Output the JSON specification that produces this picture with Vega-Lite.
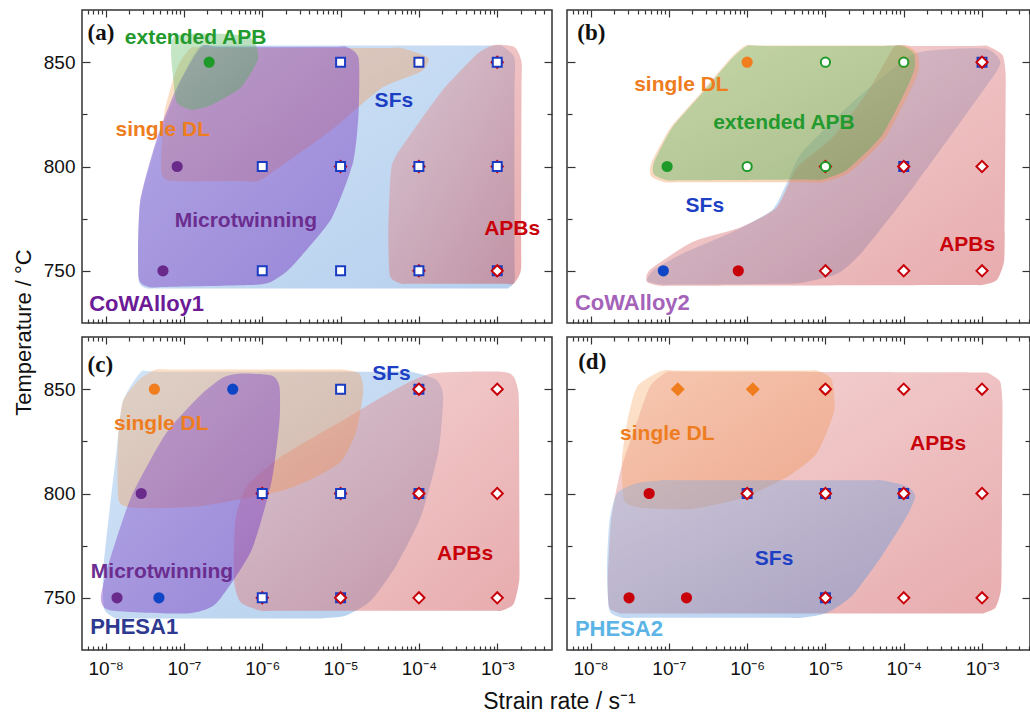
{
"$schema":"https://vega.github.io/schema/vega-lite/v6.json",
"padding":{"left":11,"top":8,"right":0,"bottom":0},
"config":{"view":{"stroke":"#333","strokeWidth":1.5},
 "line":{"filled":true,"interpolate":"cardinal-closed","tension":0.4,"strokeWidth":0},
 "axis":{"domain":false,"grid":false,"tickColor":"#333","tickWidth":1.2,"labelFont":"Liberation Sans","labelFontSize":19,"labelColor":"#111","titleFont":"Liberation Sans","titleFontWeight":"normal","titleColor":"#111"}},
"datasets":{
"blobs":[
{"panel":"a","type":"SFs","i":0,"x":1.66e-7,"y":858},{"panel":"a","type":"SFs","i":0.3,"x":3e-7,"y":858},{"panel":"a","type":"SFs","i":0.7,"x":7e-4,"y":858},{"panel":"a","type":"SFs","i":1,"x":1.12e-3,"y":858},{"panel":"a","type":"SFs","i":2,"x":1.66e-3,"y":852},{"panel":"a","type":"SFs","i":2.3,"x":1.66e-3,"y":835},{"panel":"a","type":"SFs","i":2.7,"x":1.66e-3,"y":760},{"panel":"a","type":"SFs","i":3,"x":1.66e-3,"y":745},{"panel":"a","type":"SFs","i":4,"x":1.32e-3,"y":741.5},{"panel":"a","type":"SFs","i":4.3,"x":8e-4,"y":741.5},{"panel":"a","type":"SFs","i":4.7,"x":6e-8,"y":741.5},{"panel":"a","type":"SFs","i":5,"x":3.55e-8,"y":741.5},{"panel":"a","type":"SFs","i":6,"x":2.63e-8,"y":746},{"panel":"a","type":"SFs","i":7,"x":2.75e-8,"y":782},{"panel":"a","type":"SFs","i":8,"x":4.68e-8,"y":814},{"panel":"a","type":"SFs","i":9,"x":8.51e-8,"y":838},{"panel":"a","type":"SFs","i":10,"x":1.26e-7,"y":852},
{"panel":"a","type":"APBs","i":0,"x":9.12e-4,"y":858.2},{"panel":"a","type":"APBs","i":1,"x":1.66e-3,"y":857.3},{"panel":"a","type":"APBs","i":2,"x":2.04e-3,"y":850.2},{"panel":"a","type":"APBs","i":2.3,"x":2.04e-3,"y":835},{"panel":"a","type":"APBs","i":2.7,"x":2.02e-3,"y":765},{"panel":"a","type":"APBs","i":3,"x":2.0e-3,"y":750},{"panel":"a","type":"APBs","i":4,"x":1.62e-3,"y":743.8},{"panel":"a","type":"APBs","i":4.3,"x":1.2e-3,"y":743.8},{"panel":"a","type":"APBs","i":4.7,"x":8e-5,"y":743.8},{"panel":"a","type":"APBs","i":5,"x":6.03e-5,"y":743.8},{"panel":"a","type":"APBs","i":6,"x":4.27e-5,"y":747.5},{"panel":"a","type":"APBs","i":7,"x":4.07e-5,"y":769},{"panel":"a","type":"APBs","i":8,"x":4.47e-5,"y":800},{"panel":"a","type":"APBs","i":9,"x":6.76e-5,"y":812},{"panel":"a","type":"APBs","i":10,"x":1.95e-4,"y":836},{"panel":"a","type":"APBs","i":11,"x":5.5e-4,"y":853.8},
{"panel":"a","type":"single DL","i":0,"x":1.23e-7,"y":856.8},{"panel":"a","type":"single DL","i":0.3,"x":2.5e-7,"y":856.8},{"panel":"a","type":"single DL","i":0.7,"x":3.5e-5,"y":856.8},{"panel":"a","type":"single DL","i":1,"x":6.03e-5,"y":856.8},{"panel":"a","type":"single DL","i":2,"x":1.32e-4,"y":852},{"panel":"a","type":"single DL","i":3,"x":1.07e-4,"y":845.5},{"panel":"a","type":"single DL","i":4,"x":3.31e-5,"y":837.5},{"panel":"a","type":"single DL","i":5,"x":7.59e-6,"y":817.4},{"panel":"a","type":"single DL","i":6,"x":1.74e-6,"y":800.2},{"panel":"a","type":"single DL","i":7,"x":8.91e-7,"y":793},{"panel":"a","type":"single DL","i":7.5,"x":4e-7,"y":793},{"panel":"a","type":"single DL","i":8,"x":6.92e-8,"y":793},{"panel":"a","type":"single DL","i":9,"x":5.13e-8,"y":797.9},{"panel":"a","type":"single DL","i":10,"x":5.62e-8,"y":825.5},{"panel":"a","type":"single DL","i":11,"x":8.13e-8,"y":847},
{"panel":"a","type":"Microtwinning","i":0,"x":1.66e-7,"y":857.4},{"panel":"a","type":"Microtwinning","i":0.3,"x":3e-7,"y":857.4},{"panel":"a","type":"Microtwinning","i":0.7,"x":8e-6,"y":857.4},{"panel":"a","type":"Microtwinning","i":1,"x":1.175e-5,"y":857.4},{"panel":"a","type":"Microtwinning","i":2,"x":1.7e-5,"y":852},{"panel":"a","type":"Microtwinning","i":3,"x":1.7e-5,"y":826},{"panel":"a","type":"Microtwinning","i":4,"x":1.445e-5,"y":802},{"panel":"a","type":"Microtwinning","i":5,"x":7.59e-6,"y":774.8},{"panel":"a","type":"Microtwinning","i":6,"x":2.34e-6,"y":751.7},{"panel":"a","type":"Microtwinning","i":7,"x":1.29e-6,"y":744.7},{"panel":"a","type":"Microtwinning","i":7.3,"x":7e-7,"y":743.2},{"panel":"a","type":"Microtwinning","i":7.7,"x":6e-8,"y":742.3},{"panel":"a","type":"Microtwinning","i":8,"x":3.55e-8,"y":742.3},{"panel":"a","type":"Microtwinning","i":9,"x":2.63e-8,"y":747},{"panel":"a","type":"Microtwinning","i":10,"x":2.75e-8,"y":782.8},{"panel":"a","type":"Microtwinning","i":11,"x":4.57e-8,"y":814},{"panel":"a","type":"Microtwinning","i":12,"x":8.13e-8,"y":838},
{"panel":"a","type":"extended APB","i":0,"x":7.59e-8,"y":862.5},{"panel":"a","type":"extended APB","i":1,"x":6.46e-7,"y":862.5},{"panel":"a","type":"extended APB","i":2,"x":8.91e-7,"y":852},{"panel":"a","type":"extended APB","i":3,"x":5.37e-7,"y":838},{"panel":"a","type":"extended APB","i":4,"x":2.24e-7,"y":829.5},{"panel":"a","type":"extended APB","i":5,"x":1.26e-7,"y":827.2},{"panel":"a","type":"extended APB","i":6,"x":8.13e-8,"y":830.6},{"panel":"a","type":"extended APB","i":7,"x":7.41e-8,"y":840},
{"panel":"b","type":"SFs","i":0,"x":1.175e-3,"y":856.3},{"panel":"b","type":"SFs","i":1,"x":1.7e-3,"y":850.6},{"panel":"b","type":"SFs","i":2,"x":1.35e-3,"y":842.5},{"panel":"b","type":"SFs","i":3,"x":1.38e-4,"y":791},{"panel":"b","type":"SFs","i":4,"x":2.95e-5,"y":759},{"panel":"b","type":"SFs","i":5,"x":1.41e-5,"y":748.6},{"panel":"b","type":"SFs","i":6,"x":5.01e-6,"y":744.3},{"panel":"b","type":"SFs","i":6.3,"x":2.5e-6,"y":743.8},{"panel":"b","type":"SFs","i":6.7,"x":1.5e-7,"y":743.4},{"panel":"b","type":"SFs","i":7,"x":8.13e-8,"y":743.4},{"panel":"b","type":"SFs","i":8,"x":5.25e-8,"y":745.3},{"panel":"b","type":"SFs","i":9,"x":6.46e-8,"y":750.5},{"panel":"b","type":"SFs","i":10,"x":1.48e-7,"y":758.2},{"panel":"b","type":"SFs","i":11,"x":6.46e-7,"y":768.6},{"panel":"b","type":"SFs","i":12,"x":2.09e-6,"y":779.2},{"panel":"b","type":"SFs","i":13,"x":3.24e-6,"y":792.4},{"panel":"b","type":"SFs","i":14,"x":5.01e-6,"y":806.7},{"panel":"b","type":"SFs","i":15,"x":2.19e-5,"y":830.6},{"panel":"b","type":"SFs","i":16,"x":1.29e-4,"y":853.5},{"panel":"b","type":"SFs","i":17,"x":4.17e-4,"y":856.3},
{"panel":"b","type":"APBs","i":0,"x":7.76e-5,"y":857.8},{"panel":"b","type":"APBs","i":0.3,"x":1.3e-4,"y":857.8},{"panel":"b","type":"APBs","i":0.7,"x":8e-4,"y":857.8},{"panel":"b","type":"APBs","i":1,"x":1.175e-3,"y":857.8},{"panel":"b","type":"APBs","i":2,"x":1.82e-3,"y":853.5},{"panel":"b","type":"APBs","i":3,"x":2.0e-3,"y":844.9},{"panel":"b","type":"APBs","i":3.3,"x":2.0e-3,"y":830},{"panel":"b","type":"APBs","i":3.7,"x":1.95e-3,"y":768},{"panel":"b","type":"APBs","i":4,"x":1.905e-3,"y":754.2},{"panel":"b","type":"APBs","i":5,"x":1.55e-3,"y":745.6},{"panel":"b","type":"APBs","i":6,"x":1.0e-3,"y":743.2},{"panel":"b","type":"APBs","i":6.3,"x":5e-4,"y":743.2},{"panel":"b","type":"APBs","i":6.7,"x":1.5e-7,"y":742.8},{"panel":"b","type":"APBs","i":7,"x":8.13e-8,"y":742.8},{"panel":"b","type":"APBs","i":8,"x":5.25e-8,"y":744.7},{"panel":"b","type":"APBs","i":9,"x":5.75e-8,"y":750.5},{"panel":"b","type":"APBs","i":10,"x":2.0e-7,"y":763.8},{"panel":"b","type":"APBs","i":11,"x":8.51e-7,"y":771},{"panel":"b","type":"APBs","i":12,"x":2.4e-6,"y":780.5},{"panel":"b","type":"APBs","i":13,"x":4.37e-6,"y":799.6},{"panel":"b","type":"APBs","i":14,"x":1.23e-5,"y":813.9},{"panel":"b","type":"APBs","i":15,"x":3.39e-5,"y":835.4},{"panel":"b","type":"APBs","i":16,"x":6.17e-5,"y":852},
{"panel":"b","type":"single DL","i":0,"x":9.55e-7,"y":858},{"panel":"b","type":"single DL","i":0.3,"x":1.6e-6,"y":858},{"panel":"b","type":"single DL","i":0.7,"x":6e-5,"y":858},{"panel":"b","type":"single DL","i":1,"x":1.07e-4,"y":858},{"panel":"b","type":"single DL","i":2,"x":1.51e-4,"y":854},{"panel":"b","type":"single DL","i":3,"x":1.55e-4,"y":846},{"panel":"b","type":"single DL","i":4,"x":1.2e-4,"y":836},{"panel":"b","type":"single DL","i":5,"x":5.62e-5,"y":813},{"panel":"b","type":"single DL","i":6,"x":2.0e-5,"y":797},{"panel":"b","type":"single DL","i":7,"x":9.12e-6,"y":792.5},{"panel":"b","type":"single DL","i":7.3,"x":5e-6,"y":792.5},{"panel":"b","type":"single DL","i":7.7,"x":1.5e-7,"y":792.5},{"panel":"b","type":"single DL","i":8,"x":8.91e-8,"y":792.5},{"panel":"b","type":"single DL","i":9,"x":5.89e-8,"y":795.5},{"panel":"b","type":"single DL","i":10,"x":6.03e-8,"y":802},{"panel":"b","type":"single DL","i":11,"x":1.05e-7,"y":818.6},{"panel":"b","type":"single DL","i":12,"x":2.57e-7,"y":835.4},{"panel":"b","type":"single DL","i":13,"x":6.17e-7,"y":852},
{"panel":"b","type":"extended APB","i":0,"x":1.0e-6,"y":857.8},{"panel":"b","type":"extended APB","i":0.3,"x":1.7e-6,"y":857.8},{"panel":"b","type":"extended APB","i":0.7,"x":5.5e-5,"y":857.8},{"panel":"b","type":"extended APB","i":1,"x":9.55e-5,"y":857.8},{"panel":"b","type":"extended APB","i":2,"x":1.35e-4,"y":854.4},{"panel":"b","type":"extended APB","i":3,"x":1.38e-4,"y":847.3},{"panel":"b","type":"extended APB","i":4,"x":1.1e-4,"y":837.7},{"panel":"b","type":"extended APB","i":5,"x":5.25e-5,"y":814.8},{"panel":"b","type":"extended APB","i":6,"x":1.905e-5,"y":798.6},{"panel":"b","type":"extended APB","i":7,"x":9.12e-6,"y":793.8},{"panel":"b","type":"extended APB","i":7.3,"x":5e-6,"y":793.8},{"panel":"b","type":"extended APB","i":7.7,"x":1.6e-7,"y":793.4},{"panel":"b","type":"extended APB","i":8,"x":9.55e-8,"y":793.4},{"panel":"b","type":"extended APB","i":9,"x":6.46e-8,"y":796.2},{"panel":"b","type":"extended APB","i":10,"x":6.46e-8,"y":802},{"panel":"b","type":"extended APB","i":11,"x":1.1e-7,"y":818.6},{"panel":"b","type":"extended APB","i":12,"x":2.69e-7,"y":835.4},{"panel":"b","type":"extended APB","i":13,"x":6.46e-7,"y":852},
{"panel":"c","type":"SFs","i":0,"x":2.85e-8,"y":858.4},{"panel":"c","type":"SFs","i":0.3,"x":5e-8,"y":858.4},{"panel":"c","type":"SFs","i":0.7,"x":4e-5,"y":858.4},{"panel":"c","type":"SFs","i":1,"x":7.94e-5,"y":858.4},{"panel":"c","type":"SFs","i":2,"x":1.66e-4,"y":854.6},{"panel":"c","type":"SFs","i":3,"x":2.04e-4,"y":846.5},{"panel":"c","type":"SFs","i":4,"x":1.78e-4,"y":820.3},{"panel":"c","type":"SFs","i":5,"x":1.07e-4,"y":789.3},{"panel":"c","type":"SFs","i":6,"x":5.13e-5,"y":765.4},{"panel":"c","type":"SFs","i":7,"x":2.45e-5,"y":748.7},{"panel":"c","type":"SFs","i":8,"x":1.175e-5,"y":741.5},{"panel":"c","type":"SFs","i":9,"x":5.62e-6,"y":740.1},{"panel":"c","type":"SFs","i":9.3,"x":3e-6,"y":740.1},{"panel":"c","type":"SFs","i":9.7,"x":2.5e-8,"y":740.1},{"panel":"c","type":"SFs","i":10,"x":1.38e-8,"y":740.1},{"panel":"c","type":"SFs","i":11,"x":9.55e-9,"y":744.9},{"panel":"c","type":"SFs","i":12,"x":9.33e-9,"y":763},{"panel":"c","type":"SFs","i":13,"x":1.12e-8,"y":791.6},{"panel":"c","type":"SFs","i":14,"x":1.38e-8,"y":820.3},{"panel":"c","type":"SFs","i":15,"x":1.66e-8,"y":844.1},
{"panel":"c","type":"APBs","i":0,"x":1.445e-4,"y":857.5},{"panel":"c","type":"APBs","i":1,"x":1.12e-3,"y":858.4},{"panel":"c","type":"APBs","i":2,"x":1.62e-3,"y":856},{"panel":"c","type":"APBs","i":3,"x":1.86e-3,"y":848.9},{"panel":"c","type":"APBs","i":3.3,"x":1.9e-3,"y":835},{"panel":"c","type":"APBs","i":3.7,"x":1.92e-3,"y":772},{"panel":"c","type":"APBs","i":4,"x":1.905e-3,"y":758.1},{"panel":"c","type":"APBs","i":5,"x":1.62e-3,"y":747.1},{"panel":"c","type":"APBs","i":6,"x":1.12e-3,"y":743.8},{"panel":"c","type":"APBs","i":6.3,"x":7e-4,"y":743.8},{"panel":"c","type":"APBs","i":6.7,"x":1.8e-6,"y":743.8},{"panel":"c","type":"APBs","i":7,"x":9.77e-7,"y":743.8},{"panel":"c","type":"APBs","i":8,"x":5.37e-7,"y":747.6},{"panel":"c","type":"APBs","i":9,"x":4.37e-7,"y":758.1},{"panel":"c","type":"APBs","i":10,"x":4.52e-7,"y":786.7},{"panel":"c","type":"APBs","i":11,"x":6.31e-7,"y":803.4},{"panel":"c","type":"APBs","i":12,"x":1.74e-6,"y":817.7},{"panel":"c","type":"APBs","i":13,"x":1.02e-5,"y":834.6},{"panel":"c","type":"APBs","i":14,"x":4.47e-5,"y":848.9},
{"panel":"c","type":"single DL","i":0,"x":4.42e-8,"y":859.4},{"panel":"c","type":"single DL","i":0.3,"x":8e-8,"y":859.4},{"panel":"c","type":"single DL","i":0.7,"x":6e-6,"y":859.4},{"panel":"c","type":"single DL","i":1,"x":1.02e-5,"y":859.4},{"panel":"c","type":"single DL","i":2,"x":1.74e-5,"y":857.5},{"panel":"c","type":"single DL","i":3,"x":1.95e-5,"y":848.9},{"panel":"c","type":"single DL","i":4,"x":1.585e-5,"y":829.8},{"panel":"c","type":"single DL","i":5,"x":1.02e-5,"y":815.5},{"panel":"c","type":"single DL","i":6,"x":4.27e-6,"y":806.9},{"panel":"c","type":"single DL","i":7,"x":1.74e-6,"y":801.2},{"panel":"c","type":"single DL","i":8,"x":1.66e-7,"y":794},{"panel":"c","type":"single DL","i":9,"x":2.85e-8,"y":793},{"panel":"c","type":"single DL","i":10,"x":1.48e-8,"y":796.3},{"panel":"c","type":"single DL","i":11,"x":1.445e-8,"y":825},{"panel":"c","type":"single DL","i":12,"x":1.66e-8,"y":844.1},{"panel":"c","type":"single DL","i":13,"x":2.69e-8,"y":854.6},
{"panel":"c","type":"Microtwinning","i":0,"x":5.37e-7,"y":857.5},{"panel":"c","type":"Microtwinning","i":1,"x":1.32e-6,"y":856.5},{"panel":"c","type":"Microtwinning","i":2,"x":1.66e-6,"y":851.3},{"panel":"c","type":"Microtwinning","i":3,"x":1.66e-6,"y":834.6},{"panel":"c","type":"Microtwinning","i":4,"x":1.32e-6,"y":806},{"panel":"c","type":"Microtwinning","i":5,"x":7.24e-7,"y":772.6},{"panel":"c","type":"Microtwinning","i":6,"x":2.57e-7,"y":747.3},{"panel":"c","type":"Microtwinning","i":7,"x":1.07e-7,"y":742.5},{"panel":"c","type":"Microtwinning","i":8,"x":1.175e-8,"y":743.9},{"panel":"c","type":"Microtwinning","i":9,"x":8.71e-9,"y":749.7},{"panel":"c","type":"Microtwinning","i":10,"x":1.12e-8,"y":767.6},{"panel":"c","type":"Microtwinning","i":11,"x":2.14e-8,"y":798.7},{"panel":"c","type":"Microtwinning","i":12,"x":5.89e-8,"y":828.8},{"panel":"c","type":"Microtwinning","i":13,"x":1.66e-7,"y":847.5},{"panel":"c","type":"Microtwinning","i":14,"x":3.16e-7,"y":855.6},
{"panel":"d","type":"APBs","i":0,"x":9.55e-8,"y":858.4},{"panel":"d","type":"APBs","i":0.3,"x":1.7e-7,"y":858.4},{"panel":"d","type":"APBs","i":0.7,"x":7e-4,"y":858},{"panel":"d","type":"APBs","i":1,"x":1.16e-3,"y":857.9},{"panel":"d","type":"APBs","i":2,"x":1.7e-3,"y":853.7},{"panel":"d","type":"APBs","i":3,"x":1.82e-3,"y":844.1},{"panel":"d","type":"APBs","i":3.3,"x":1.82e-3,"y":830},{"panel":"d","type":"APBs","i":3.7,"x":1.78e-3,"y":767},{"panel":"d","type":"APBs","i":4,"x":1.74e-3,"y":753.5},{"panel":"d","type":"APBs","i":5,"x":1.48e-3,"y":745.3},{"panel":"d","type":"APBs","i":6,"x":1.0e-3,"y":742.5},{"panel":"d","type":"APBs","i":6.3,"x":6e-4,"y":742.5},{"panel":"d","type":"APBs","i":6.7,"x":4e-8,"y":742.5},{"panel":"d","type":"APBs","i":7,"x":2.51e-8,"y":742.5},{"panel":"d","type":"APBs","i":8,"x":1.74e-8,"y":745.3},{"panel":"d","type":"APBs","i":9,"x":1.66e-8,"y":758.1},{"panel":"d","type":"APBs","i":10,"x":1.82e-8,"y":786.7},{"panel":"d","type":"APBs","i":11,"x":2.4e-8,"y":810.6},{"panel":"d","type":"APBs","i":12,"x":3.94e-8,"y":834.6},{"panel":"d","type":"APBs","i":13,"x":5.75e-8,"y":851.3},
{"panel":"d","type":"single DL","i":0,"x":8.22e-8,"y":858.9},{"panel":"d","type":"single DL","i":0.3,"x":1.4e-7,"y":858.9},{"panel":"d","type":"single DL","i":0.7,"x":4.5e-6,"y":858.9},{"panel":"d","type":"single DL","i":1,"x":7.76e-6,"y":858.9},{"panel":"d","type":"single DL","i":2,"x":1.2e-5,"y":854.6},{"panel":"d","type":"single DL","i":3,"x":1.29e-5,"y":839.4},{"panel":"d","type":"single DL","i":4,"x":7.76e-6,"y":819.3},{"panel":"d","type":"single DL","i":5,"x":3.24e-6,"y":807.9},{"panel":"d","type":"single DL","i":6,"x":8.61e-7,"y":797.8},{"panel":"d","type":"single DL","i":7,"x":2.0e-7,"y":792.6},{"panel":"d","type":"single DL","i":8,"x":4.57e-8,"y":793.1},{"panel":"d","type":"single DL","i":9,"x":2.69e-8,"y":796.5},{"panel":"d","type":"single DL","i":10,"x":2.51e-8,"y":815.5},{"panel":"d","type":"single DL","i":11,"x":2.95e-8,"y":834.6},{"panel":"d","type":"single DL","i":12,"x":3.94e-8,"y":851.3},
{"panel":"d","type":"SFs","i":0,"x":8.22e-8,"y":806.4},{"panel":"d","type":"SFs","i":0.3,"x":1.4e-7,"y":806.4},{"panel":"d","type":"SFs","i":0.7,"x":3e-5,"y":806.4},{"panel":"d","type":"SFs","i":1,"x":5.25e-5,"y":806.4},{"panel":"d","type":"SFs","i":2,"x":1.1e-4,"y":803.5},{"panel":"d","type":"SFs","i":3,"x":1.4e-4,"y":798.7},{"panel":"d","type":"SFs","i":4,"x":1.1e-4,"y":789.2},{"panel":"d","type":"SFs","i":5,"x":5.25e-5,"y":770.1},{"panel":"d","type":"SFs","i":6,"x":2.19e-5,"y":751},{"panel":"d","type":"SFs","i":7,"x":1.05e-5,"y":742.9},{"panel":"d","type":"SFs","i":8,"x":5.01e-6,"y":740.5},{"panel":"d","type":"SFs","i":8.3,"x":2.5e-6,"y":740.5},{"panel":"d","type":"SFs","i":8.7,"x":4.5e-8,"y":740.5},{"panel":"d","type":"SFs","i":9,"x":2.51e-8,"y":740.5},{"panel":"d","type":"SFs","i":10,"x":1.74e-8,"y":743.9},{"panel":"d","type":"SFs","i":11,"x":1.62e-8,"y":763},{"panel":"d","type":"SFs","i":12,"x":1.74e-8,"y":786.9},{"panel":"d","type":"SFs","i":13,"x":2.19e-8,"y":800.2},{"panel":"d","type":"SFs","i":14,"x":3.94e-8,"y":805}
],
"pts":[
{"panel":"a","x":2.1e-7,"y":850,"kind":"EAPB_f"},{"panel":"a","x":8.2e-8,"y":800,"kind":"MT_f"},{"panel":"a","x":5.4e-8,"y":750,"kind":"MT_f"},{"panel":"a","x":1e-6,"y":800,"kind":"SF"},{"panel":"a","x":1e-6,"y":750,"kind":"SF"},{"panel":"a","x":1e-5,"y":850,"kind":"SF"},{"panel":"a","x":1e-5,"y":800,"kind":"APB"},{"panel":"a","x":1e-5,"y":800,"kind":"SF"},{"panel":"a","x":1e-5,"y":750,"kind":"SF"},{"panel":"a","x":1e-4,"y":850,"kind":"DL_f"},{"panel":"a","x":1e-4,"y":850,"kind":"SF"},{"panel":"a","x":1e-4,"y":800,"kind":"APB"},{"panel":"a","x":1e-4,"y":800,"kind":"SF"},{"panel":"a","x":1e-4,"y":750,"kind":"APB"},{"panel":"a","x":1e-4,"y":750,"kind":"SF"},{"panel":"a","x":1e-3,"y":850,"kind":"APB"},{"panel":"a","x":1e-3,"y":850,"kind":"SF"},{"panel":"a","x":1e-3,"y":800,"kind":"APB"},{"panel":"a","x":1e-3,"y":800,"kind":"SF"},{"panel":"a","x":1e-3,"y":750,"kind":"SF"},{"panel":"a","x":1e-3,"y":750,"kind":"APB"},
{"panel":"b","x":1e-6,"y":850,"kind":"DL_f"},{"panel":"b","x":1e-5,"y":850,"kind":"EAPB"},{"panel":"b","x":1e-4,"y":850,"kind":"DL_f"},{"panel":"b","x":1e-4,"y":850,"kind":"EAPB"},{"panel":"b","x":1e-3,"y":850,"kind":"SF"},{"panel":"b","x":1e-3,"y":850,"kind":"APB"},{"panel":"b","x":9.5e-8,"y":800,"kind":"EAPB_f"},{"panel":"b","x":1e-6,"y":800,"kind":"EAPB"},{"panel":"b","x":1e-5,"y":800,"kind":"APB"},{"panel":"b","x":1e-5,"y":800,"kind":"EAPB"},{"panel":"b","x":1e-4,"y":800,"kind":"SF"},{"panel":"b","x":1e-4,"y":800,"kind":"APB"},{"panel":"b","x":1e-3,"y":800,"kind":"APB"},{"panel":"b","x":8.5e-8,"y":750,"kind":"SF_f"},{"panel":"b","x":7.7e-7,"y":750,"kind":"APB_f"},{"panel":"b","x":1e-5,"y":750,"kind":"APB"},{"panel":"b","x":1e-4,"y":750,"kind":"APB"},{"panel":"b","x":1e-3,"y":750,"kind":"APB"},
{"panel":"c","x":4.2e-8,"y":850,"kind":"DL_f"},{"panel":"c","x":4.2e-7,"y":850,"kind":"SF_f"},{"panel":"c","x":1e-5,"y":850,"kind":"DL_f"},{"panel":"c","x":1e-5,"y":850,"kind":"SF"},{"panel":"c","x":1e-4,"y":850,"kind":"SF"},{"panel":"c","x":1e-4,"y":850,"kind":"APB"},{"panel":"c","x":1e-3,"y":850,"kind":"APB"},{"panel":"c","x":2.85e-8,"y":800,"kind":"MT_f"},{"panel":"c","x":1e-6,"y":800,"kind":"APB"},{"panel":"c","x":1e-6,"y":800,"kind":"SF"},{"panel":"c","x":1e-5,"y":800,"kind":"APB"},{"panel":"c","x":1e-5,"y":800,"kind":"SF"},{"panel":"c","x":1e-4,"y":800,"kind":"SF"},{"panel":"c","x":1e-4,"y":800,"kind":"APB"},{"panel":"c","x":1e-3,"y":800,"kind":"APB"},{"panel":"c","x":1.4e-8,"y":750,"kind":"MT_f"},{"panel":"c","x":4.8e-8,"y":750,"kind":"SF_f"},{"panel":"c","x":1e-6,"y":750,"kind":"APB"},{"panel":"c","x":1e-6,"y":750,"kind":"SF"},{"panel":"c","x":1e-5,"y":750,"kind":"SF"},{"panel":"c","x":1e-5,"y":750,"kind":"APB"},{"panel":"c","x":1e-4,"y":750,"kind":"APB"},{"panel":"c","x":1e-3,"y":750,"kind":"APB"},
{"panel":"d","x":1.3e-7,"y":850,"kind":"DL_fd"},{"panel":"d","x":1.18e-6,"y":850,"kind":"DL_fd"},{"panel":"d","x":1e-5,"y":850,"kind":"DL_f"},{"panel":"d","x":1e-5,"y":850,"kind":"APB"},{"panel":"d","x":1e-4,"y":850,"kind":"APB"},{"panel":"d","x":1e-3,"y":850,"kind":"APB"},{"panel":"d","x":5.6e-8,"y":800,"kind":"APB_f"},{"panel":"d","x":1e-6,"y":800,"kind":"SF"},{"panel":"d","x":1e-6,"y":800,"kind":"APB"},{"panel":"d","x":1e-5,"y":800,"kind":"SF"},{"panel":"d","x":1e-5,"y":800,"kind":"APB"},{"panel":"d","x":1e-4,"y":800,"kind":"SF"},{"panel":"d","x":1e-4,"y":800,"kind":"APB"},{"panel":"d","x":1e-3,"y":800,"kind":"APB"},{"panel":"d","x":3.1e-8,"y":750,"kind":"APB_f"},{"panel":"d","x":1.68e-7,"y":750,"kind":"APB_f"},{"panel":"d","x":1e-5,"y":750,"kind":"SF"},{"panel":"d","x":1e-5,"y":750,"kind":"APB"},{"panel":"d","x":1e-4,"y":750,"kind":"APB"},{"panel":"d","x":1e-3,"y":750,"kind":"APB"}
],
"labels":[
{"panel":"a","role":"letter","text":"(a)","x":5.89e-9,"y":864},{"panel":"a","role":"region","text":"extended APB","x":1.41e-7,"y":861.8},{"panel":"a","role":"region","text":"single DL","x":5.37e-8,"y":817.6},{"panel":"a","role":"region","text":"Microtwinning","x":6.17e-7,"y":773.8},{"panel":"a","role":"region","text":"SFs","x":4.79e-5,"y":831.5},{"panel":"a","role":"region","text":"APBs","x":1.55e-3,"y":770},{"panel":"a","role":"alloy","text":"CoWAlloy1","x":6.17e-9,"y":734.2},
{"panel":"b","role":"letter","text":"(b)","x":6.76e-9,"y":864},{"panel":"b","role":"region","text":"single DL","x":1.445e-7,"y":839.2},{"panel":"b","role":"region","text":"extended APB","x":2.95e-6,"y":821},{"panel":"b","role":"region","text":"SFs","x":2.88e-7,"y":781},{"panel":"b","role":"region","text":"APBs","x":6.46e-4,"y":762.3},{"panel":"b","role":"alloy","text":"CoWAlloy2","x":6.31e-9,"y":734.7},
{"panel":"c","role":"letter","text":"(c)","x":5.89e-9,"y":861.8},{"panel":"c","role":"region","text":"single DL","x":5.13e-8,"y":833.5},{"panel":"c","role":"region","text":"Microtwinning","x":5.25e-8,"y":762.5},{"panel":"c","role":"region","text":"SFs","x":4.47e-5,"y":857.5},{"panel":"c","role":"region","text":"APBs","x":3.89e-4,"y":771},{"panel":"c","role":"alloy","text":"PHESA1","x":6.35e-9,"y":735.8},
{"panel":"d","role":"letter","text":"(d)","x":6.95e-9,"y":863.2},{"panel":"d","role":"region","text":"single DL","x":9.55e-8,"y":828.7},{"panel":"d","role":"region","text":"SFs","x":2.21e-6,"y":768.7},{"panel":"d","role":"region","text":"APBs","x":2.75e-4,"y":823.6},{"panel":"d","role":"alloy","text":"PHESA2","x":6.31e-9,"y":735.3}
]},
"concat":[
{"width":470,"height":313,"layer":[
 {"data":{"name":"blobs"},"transform":[{"filter":"datum.panel=='a' && datum.type=='SFs'"}],"mark":{"type":"line","fill":{"gradient":"linear","x1":0,"y1":0,"x2":1,"y2":1,"stops":[{"offset":0,"color":"rgba(120,175,232,0.34)"},{"offset":1,"color":"rgba(80,140,212,0.42)"}]}},
  "encoding":{"x":{"field":"x","type":"quantitative","scale":{"type":"log","domain":[5e-9,5e-3],"nice":false},"axis":{"orient":"bottom","values":[6e-9,7e-9,8e-9,9e-9,1e-8,2e-8,3e-8,4e-8,5e-8,6e-8,7e-8,8e-8,9e-8,1e-7,2e-7,3e-7,4e-7,5e-7,6e-7,7e-7,8e-7,9e-7,1e-6,2e-6,3e-6,4e-6,5e-6,6e-6,7e-6,8e-6,9e-6,1e-5,2e-5,3e-5,4e-5,5e-5,6e-5,7e-5,8e-5,9e-5,1e-4,2e-4,3e-4,4e-4,5e-4,6e-4,7e-4,8e-4,9e-4,1e-3,2e-3,3e-3,4e-3],"tickSize":{"condition":{"test":"abs(log(datum.value)/LN10-round(log(datum.value)/LN10))<0.001","value":-7},"value":-4},"labels":false,"title":null}},
   "y":{"field":"y","type":"quantitative","scale":{"domain":[725,875],"nice":false,"zero":false},"axis":{"orient":"left","values":[750,775,800,825,850],"tickSize":{"condition":{"test":"datum.value % 50 == 0","value":-8},"value":-5},"labelExpr":"datum.value % 50 == 0 ? datum.label : ''","labelPadding":15,"title":"Temperature / °C","titleFontSize":22,"titleX":-47,"titleY":322,"titleAngle":270,"titleBaseline":"bottom","titleAlign":"center"}},
   "order":{"field":"i","type":"quantitative"}}},
 {"data":{"name":"blobs"},"transform":[{"filter":"datum.panel=='a' && datum.type=='APBs'"}],"mark":{"type":"line","fill":{"gradient":"linear","x1":0,"y1":0,"x2":1,"y2":1,"stops":[{"offset":0,"color":"rgba(235,165,165,0.45)"},{"offset":1,"color":"rgba(205,80,85,0.48)"}]}},
  "encoding":{"x":{"field":"x","type":"quantitative","scale":{"type":"log","domain":[5e-9,5e-3],"nice":false},"axis":null},"y":{"field":"y","type":"quantitative","scale":{"domain":[725,875],"nice":false,"zero":false},"axis":null},"order":{"field":"i","type":"quantitative"}}},
 {"data":{"name":"blobs"},"transform":[{"filter":"datum.panel=='a' && datum.type=='single DL'"}],"mark":{"type":"line","fill":{"gradient":"linear","x1":0,"y1":0,"x2":1,"y2":1,"stops":[{"offset":0,"color":"rgba(248,175,110,0.36)"},{"offset":1,"color":"rgba(238,140,80,0.42)"}]}},
  "encoding":{"x":{"field":"x","type":"quantitative","scale":{"type":"log","domain":[5e-9,5e-3],"nice":false},"axis":null},"y":{"field":"y","type":"quantitative","scale":{"domain":[725,875],"nice":false,"zero":false},"axis":null},"order":{"field":"i","type":"quantitative"}}},
 {"data":{"name":"blobs"},"transform":[{"filter":"datum.panel=='a' && datum.type=='Microtwinning'"}],"mark":{"type":"line","fill":{"gradient":"linear","x1":0,"y1":0,"x2":1,"y2":1,"stops":[{"offset":0,"color":"rgba(140,85,205,0.42)"},{"offset":1,"color":"rgba(115,55,190,0.5)"}]}},
  "encoding":{"x":{"field":"x","type":"quantitative","scale":{"type":"log","domain":[5e-9,5e-3],"nice":false},"axis":null},"y":{"field":"y","type":"quantitative","scale":{"domain":[725,875],"nice":false,"zero":false},"axis":null},"order":{"field":"i","type":"quantitative"}}},
 {"data":{"name":"blobs"},"transform":[{"filter":"datum.panel=='a' && datum.type=='extended APB'"}],"mark":{"type":"line","fill":{"gradient":"linear","x1":0,"y1":0,"x2":1,"y2":1,"stops":[{"offset":0,"color":"rgba(110,195,110,0.38)"},{"offset":1,"color":"rgba(70,165,85,0.45)"}]}},
  "encoding":{"x":{"field":"x","type":"quantitative","scale":{"type":"log","domain":[5e-9,5e-3],"nice":false},"axis":null},"y":{"field":"y","type":"quantitative","scale":{"domain":[725,875],"nice":false,"zero":false},"axis":null},"order":{"field":"i","type":"quantitative"}}},
 {"data":{"name":"pts"},"transform":[{"filter":"datum.panel=='a'"}],"mark":{"type":"point","opacity":1,"strokeWidth":2},
  "encoding":{"x":{"field":"x","type":"quantitative","scale":{"type":"log","domain":[5e-9,5e-3],"nice":false},"axis":{"orient":"top","values":[6e-9,7e-9,8e-9,9e-9,1e-8,2e-8,3e-8,4e-8,5e-8,6e-8,7e-8,8e-8,9e-8,1e-7,2e-7,3e-7,4e-7,5e-7,6e-7,7e-7,8e-7,9e-7,1e-6,2e-6,3e-6,4e-6,5e-6,6e-6,7e-6,8e-6,9e-6,1e-5,2e-5,3e-5,4e-5,5e-5,6e-5,7e-5,8e-5,9e-5,1e-4,2e-4,3e-4,4e-4,5e-4,6e-4,7e-4,8e-4,9e-4,1e-3,2e-3,3e-3,4e-3],"tickSize":{"condition":{"test":"abs(log(datum.value)/LN10-round(log(datum.value)/LN10))<0.001","value":-7},"value":-4},"labels":false,"title":null}},
   "y":{"field":"y","type":"quantitative","scale":{"domain":[725,875],"nice":false,"zero":false},"axis":{"orient":"right","values":[750,775,800,825,850],"tickSize":{"condition":{"test":"datum.value % 50 == 0","value":-8},"value":-5},"labels":false,"title":null}},
   "shape":{"field":"kind","type":"nominal","scale":{"domain":["SF","APB","EAPB","EAPB_f","DL_f","DL_fd","MT_f","SF_f","APB_f"],"range":["square","diamond","circle","circle","circle","diamond","circle","circle","circle"]},"legend":null},
   "stroke":{"field":"kind","type":"nominal","scale":{"domain":["SF","APB","EAPB","EAPB_f","DL_f","DL_fd","MT_f","SF_f","APB_f"],"range":["#1a3cc2","#c8000a","#1e9a2a","#1e9a2a","#f07d1e","#f07d1e","#6a2a8c","#0f46c6","#c8000a"]},"legend":null},
   "fill":{"field":"kind","type":"nominal","scale":{"domain":["SF","APB","EAPB","EAPB_f","DL_f","DL_fd","MT_f","SF_f","APB_f"],"range":["#ffffff","#ffffff","#ffffff","#1e9a2a","#f07d1e","#f07d1e","#6a2a8c","#0f46c6","#c8000a"]},"legend":null},
   "size":{"field":"kind","type":"nominal","scale":{"type":"ordinal","domain":["SF","APB","EAPB","EAPB_f","DL_f","DL_fd","MT_f","SF_f","APB_f"],"range":[80,125,85,85,85,125,85,85,85]},"legend":null}}},
 {"data":{"name":"labels"},"transform":[{"filter":"datum.panel=='a' && datum.role=='region'"}],"mark":{"type":"text","font":"Liberation Sans","fontWeight":"bold","fontSize":21,"align":"center","baseline":"middle"},
  "encoding":{"x":{"field":"x","type":"quantitative","scale":{"type":"log","domain":[5e-9,5e-3],"nice":false},"axis":null},"y":{"field":"y","type":"quantitative","scale":{"domain":[725,875],"nice":false,"zero":false},"axis":null},"text":{"field":"text"},
   "color":{"field":"text","type":"nominal","scale":{"domain":["SFs","APBs","single DL","extended APB","Microtwinning"],"range":["#1d3fc4","#c8000a","#ee7d1f","#239a2d","#6b2d8f"]},"legend":null}}},
 {"data":{"name":"labels"},"transform":[{"filter":"datum.panel=='a' && datum.role=='alloy'"}],"mark":{"type":"text","font":"Liberation Sans","fontWeight":"bold","fontSize":22,"align":"left","baseline":"middle"},
  "encoding":{"x":{"field":"x","type":"quantitative","scale":{"type":"log","domain":[5e-9,5e-3],"nice":false},"axis":null},"y":{"field":"y","type":"quantitative","scale":{"domain":[725,875],"nice":false,"zero":false},"axis":null},"text":{"field":"text"},
   "color":{"field":"text","type":"nominal","scale":{"domain":["CoWAlloy1","CoWAlloy2","PHESA1","PHESA2"],"range":["#6c1a96","#a462b9","#2e3990","#5bb4e5"]},"legend":null}}},
 {"data":{"name":"labels"},"transform":[{"filter":"datum.panel=='a' && datum.role=='letter'"}],"mark":{"type":"text","font":"Liberation Serif","fontWeight":"bold","fontSize":23,"align":"left","baseline":"middle","color":"#111"},
  "encoding":{"x":{"field":"x","type":"quantitative","scale":{"type":"log","domain":[5e-9,5e-3],"nice":false},"axis":null},"y":{"field":"y","type":"quantitative","scale":{"domain":[725,875],"nice":false,"zero":false},"axis":null},"text":{"field":"text"}}}
 ],"resolve":{"axis":{"x":"independent","y":"independent"},"scale":{"color":"independent"}}},

{"width":463,"height":313,"layer":[
 {"data":{"name":"blobs"},"transform":[{"filter":"datum.panel=='b' && datum.type=='SFs'"}],"mark":{"type":"line","fill":{"gradient":"linear","x1":0,"y1":0,"x2":1,"y2":1,"stops":[{"offset":0,"color":"rgba(120,175,232,0.34)"},{"offset":1,"color":"rgba(80,140,212,0.42)"}]}},
  "encoding":{"x":{"field":"x","type":"quantitative","scale":{"type":"log","domain":[5e-9,4.1e-3],"nice":false},"axis":{"orient":"bottom","values":[6e-9,7e-9,8e-9,9e-9,1e-8,2e-8,3e-8,4e-8,5e-8,6e-8,7e-8,8e-8,9e-8,1e-7,2e-7,3e-7,4e-7,5e-7,6e-7,7e-7,8e-7,9e-7,1e-6,2e-6,3e-6,4e-6,5e-6,6e-6,7e-6,8e-6,9e-6,1e-5,2e-5,3e-5,4e-5,5e-5,6e-5,7e-5,8e-5,9e-5,1e-4,2e-4,3e-4,4e-4,5e-4,6e-4,7e-4,8e-4,9e-4,1e-3,2e-3,3e-3,4e-3],"tickSize":{"condition":{"test":"abs(log(datum.value)/LN10-round(log(datum.value)/LN10))<0.001","value":-7},"value":-4},"labels":false,"title":null}},
   "y":{"field":"y","type":"quantitative","scale":{"domain":[725,875],"nice":false,"zero":false},"axis":{"orient":"left","values":[750,775,800,825,850],"tickSize":{"condition":{"test":"datum.value % 50 == 0","value":-8},"value":-5},"labels":false,"title":null}},
   "order":{"field":"i","type":"quantitative"}}},
 {"data":{"name":"blobs"},"transform":[{"filter":"datum.panel=='b' && datum.type=='APBs'"}],"mark":{"type":"line","fill":{"gradient":"linear","x1":0,"y1":0,"x2":1,"y2":1,"stops":[{"offset":0,"color":"rgba(235,165,165,0.45)"},{"offset":1,"color":"rgba(205,80,85,0.48)"}]}},
  "encoding":{"x":{"field":"x","type":"quantitative","scale":{"type":"log","domain":[5e-9,4.1e-3],"nice":false},"axis":null},"y":{"field":"y","type":"quantitative","scale":{"domain":[725,875],"nice":false,"zero":false},"axis":null},"order":{"field":"i","type":"quantitative"}}},
 {"data":{"name":"blobs"},"transform":[{"filter":"datum.panel=='b' && datum.type=='single DL'"}],"mark":{"type":"line","fill":{"gradient":"linear","x1":0,"y1":0,"x2":1,"y2":1,"stops":[{"offset":0,"color":"rgba(248,175,110,0.36)"},{"offset":1,"color":"rgba(238,140,80,0.42)"}]}},
  "encoding":{"x":{"field":"x","type":"quantitative","scale":{"type":"log","domain":[5e-9,4.1e-3],"nice":false},"axis":null},"y":{"field":"y","type":"quantitative","scale":{"domain":[725,875],"nice":false,"zero":false},"axis":null},"order":{"field":"i","type":"quantitative"}}},
 {"data":{"name":"blobs"},"transform":[{"filter":"datum.panel=='b' && datum.type=='extended APB'"}],"mark":{"type":"line","fill":{"gradient":"linear","x1":0,"y1":0,"x2":1,"y2":1,"stops":[{"offset":0,"color":"rgba(110,195,110,0.38)"},{"offset":1,"color":"rgba(70,165,85,0.45)"}]}},
  "encoding":{"x":{"field":"x","type":"quantitative","scale":{"type":"log","domain":[5e-9,4.1e-3],"nice":false},"axis":null},"y":{"field":"y","type":"quantitative","scale":{"domain":[725,875],"nice":false,"zero":false},"axis":null},"order":{"field":"i","type":"quantitative"}}},
 {"data":{"name":"pts"},"transform":[{"filter":"datum.panel=='b'"}],"mark":{"type":"point","opacity":1,"strokeWidth":2},
  "encoding":{"x":{"field":"x","type":"quantitative","scale":{"type":"log","domain":[5e-9,4.1e-3],"nice":false},"axis":{"orient":"top","values":[6e-9,7e-9,8e-9,9e-9,1e-8,2e-8,3e-8,4e-8,5e-8,6e-8,7e-8,8e-8,9e-8,1e-7,2e-7,3e-7,4e-7,5e-7,6e-7,7e-7,8e-7,9e-7,1e-6,2e-6,3e-6,4e-6,5e-6,6e-6,7e-6,8e-6,9e-6,1e-5,2e-5,3e-5,4e-5,5e-5,6e-5,7e-5,8e-5,9e-5,1e-4,2e-4,3e-4,4e-4,5e-4,6e-4,7e-4,8e-4,9e-4,1e-3,2e-3,3e-3,4e-3],"tickSize":{"condition":{"test":"abs(log(datum.value)/LN10-round(log(datum.value)/LN10))<0.001","value":-7},"value":-4},"labels":false,"title":null}},
   "y":{"field":"y","type":"quantitative","scale":{"domain":[725,875],"nice":false,"zero":false},"axis":{"orient":"right","values":[750,775,800,825,850],"tickSize":{"condition":{"test":"datum.value % 50 == 0","value":-8},"value":-5},"labels":false,"title":null}},
   "shape":{"field":"kind","type":"nominal","scale":{"domain":["SF","APB","EAPB","EAPB_f","DL_f","DL_fd","MT_f","SF_f","APB_f"],"range":["square","diamond","circle","circle","circle","diamond","circle","circle","circle"]},"legend":null},
   "stroke":{"field":"kind","type":"nominal","scale":{"domain":["SF","APB","EAPB","EAPB_f","DL_f","DL_fd","MT_f","SF_f","APB_f"],"range":["#1a3cc2","#c8000a","#1e9a2a","#1e9a2a","#f07d1e","#f07d1e","#6a2a8c","#0f46c6","#c8000a"]},"legend":null},
   "fill":{"field":"kind","type":"nominal","scale":{"domain":["SF","APB","EAPB","EAPB_f","DL_f","DL_fd","MT_f","SF_f","APB_f"],"range":["#ffffff","#ffffff","#ffffff","#1e9a2a","#f07d1e","#f07d1e","#6a2a8c","#0f46c6","#c8000a"]},"legend":null},
   "size":{"field":"kind","type":"nominal","scale":{"type":"ordinal","domain":["SF","APB","EAPB","EAPB_f","DL_f","DL_fd","MT_f","SF_f","APB_f"],"range":[80,125,85,85,85,125,85,85,85]},"legend":null}}},
 {"data":{"name":"labels"},"transform":[{"filter":"datum.panel=='b' && datum.role=='region'"}],"mark":{"type":"text","font":"Liberation Sans","fontWeight":"bold","fontSize":21,"align":"center","baseline":"middle"},
  "encoding":{"x":{"field":"x","type":"quantitative","scale":{"type":"log","domain":[5e-9,4.1e-3],"nice":false},"axis":null},"y":{"field":"y","type":"quantitative","scale":{"domain":[725,875],"nice":false,"zero":false},"axis":null},"text":{"field":"text"},
   "color":{"field":"text","type":"nominal","scale":{"domain":["SFs","APBs","single DL","extended APB","Microtwinning"],"range":["#1d3fc4","#c8000a","#ee7d1f","#239a2d","#6b2d8f"]},"legend":null}}},
 {"data":{"name":"labels"},"transform":[{"filter":"datum.panel=='b' && datum.role=='alloy'"}],"mark":{"type":"text","font":"Liberation Sans","fontWeight":"bold","fontSize":22,"align":"left","baseline":"middle"},
  "encoding":{"x":{"field":"x","type":"quantitative","scale":{"type":"log","domain":[5e-9,4.1e-3],"nice":false},"axis":null},"y":{"field":"y","type":"quantitative","scale":{"domain":[725,875],"nice":false,"zero":false},"axis":null},"text":{"field":"text"},
   "color":{"field":"text","type":"nominal","scale":{"domain":["CoWAlloy1","CoWAlloy2","PHESA1","PHESA2"],"range":["#6c1a96","#a462b9","#2e3990","#5bb4e5"]},"legend":null}}},
 {"data":{"name":"labels"},"transform":[{"filter":"datum.panel=='b' && datum.role=='letter'"}],"mark":{"type":"text","font":"Liberation Serif","fontWeight":"bold","fontSize":23,"align":"left","baseline":"middle","color":"#111"},
  "encoding":{"x":{"field":"x","type":"quantitative","scale":{"type":"log","domain":[5e-9,4.1e-3],"nice":false},"axis":null},"y":{"field":"y","type":"quantitative","scale":{"domain":[725,875],"nice":false,"zero":false},"axis":null},"text":{"field":"text"}}}
 ],"resolve":{"axis":{"x":"independent","y":"independent"},"scale":{"color":"independent"}}},

{"width":470,"height":313,"layer":[
 {"data":{"name":"blobs"},"transform":[{"filter":"datum.panel=='c' && datum.type=='SFs'"}],"mark":{"type":"line","fill":{"gradient":"linear","x1":0,"y1":0,"x2":1,"y2":1,"stops":[{"offset":0,"color":"rgba(120,175,232,0.34)"},{"offset":1,"color":"rgba(80,140,212,0.42)"}]}},
  "encoding":{"x":{"field":"x","type":"quantitative","scale":{"type":"log","domain":[5e-9,5e-3],"nice":false},"axis":{"orient":"bottom","values":[6e-9,7e-9,8e-9,9e-9,1e-8,2e-8,3e-8,4e-8,5e-8,6e-8,7e-8,8e-8,9e-8,1e-7,2e-7,3e-7,4e-7,5e-7,6e-7,7e-7,8e-7,9e-7,1e-6,2e-6,3e-6,4e-6,5e-6,6e-6,7e-6,8e-6,9e-6,1e-5,2e-5,3e-5,4e-5,5e-5,6e-5,7e-5,8e-5,9e-5,1e-4,2e-4,3e-4,4e-4,5e-4,6e-4,7e-4,8e-4,9e-4,1e-3,2e-3,3e-3,4e-3],"tickSize":{"condition":{"test":"abs(log(datum.value)/LN10-round(log(datum.value)/LN10))<0.001","value":-7},"value":-4},"labelExpr":"abs(log(datum.value)/LN10-round(log(datum.value)/LN10))<0.001 ? '10⁻' + ['⁰','¹','²','³','⁴','⁵','⁶','⁷','⁸','⁹'][-round(log(datum.value)/LN10)] : ''","labelPadding":16,"title":"Strain rate / s⁻¹","titleFontSize":23,"titleX":477,"titleY":40,"titleBaseline":"top","titleAlign":"center"}},
   "y":{"field":"y","type":"quantitative","scale":{"domain":[725,875],"nice":false,"zero":false},"axis":{"orient":"left","values":[750,775,800,825,850],"tickSize":{"condition":{"test":"datum.value % 50 == 0","value":-8},"value":-5},"labelExpr":"datum.value % 50 == 0 ? datum.label : ''","labelPadding":15,"title":null}},
   "order":{"field":"i","type":"quantitative"}}},
 {"data":{"name":"blobs"},"transform":[{"filter":"datum.panel=='c' && datum.type=='APBs'"}],"mark":{"type":"line","fill":{"gradient":"linear","x1":0,"y1":0,"x2":1,"y2":1,"stops":[{"offset":0,"color":"rgba(235,165,165,0.45)"},{"offset":1,"color":"rgba(205,80,85,0.48)"}]}},
  "encoding":{"x":{"field":"x","type":"quantitative","scale":{"type":"log","domain":[5e-9,5e-3],"nice":false},"axis":null},"y":{"field":"y","type":"quantitative","scale":{"domain":[725,875],"nice":false,"zero":false},"axis":null},"order":{"field":"i","type":"quantitative"}}},
 {"data":{"name":"blobs"},"transform":[{"filter":"datum.panel=='c' && datum.type=='single DL'"}],"mark":{"type":"line","fill":{"gradient":"linear","x1":0,"y1":0,"x2":1,"y2":1,"stops":[{"offset":0,"color":"rgba(248,175,110,0.36)"},{"offset":1,"color":"rgba(238,140,80,0.42)"}]}},
  "encoding":{"x":{"field":"x","type":"quantitative","scale":{"type":"log","domain":[5e-9,5e-3],"nice":false},"axis":null},"y":{"field":"y","type":"quantitative","scale":{"domain":[725,875],"nice":false,"zero":false},"axis":null},"order":{"field":"i","type":"quantitative"}}},
 {"data":{"name":"blobs"},"transform":[{"filter":"datum.panel=='c' && datum.type=='Microtwinning'"}],"mark":{"type":"line","fill":{"gradient":"linear","x1":0,"y1":0,"x2":1,"y2":1,"stops":[{"offset":0,"color":"rgba(140,85,205,0.42)"},{"offset":1,"color":"rgba(115,55,190,0.5)"}]}},
  "encoding":{"x":{"field":"x","type":"quantitative","scale":{"type":"log","domain":[5e-9,5e-3],"nice":false},"axis":null},"y":{"field":"y","type":"quantitative","scale":{"domain":[725,875],"nice":false,"zero":false},"axis":null},"order":{"field":"i","type":"quantitative"}}},
 {"data":{"name":"pts"},"transform":[{"filter":"datum.panel=='c'"}],"mark":{"type":"point","opacity":1,"strokeWidth":2},
  "encoding":{"x":{"field":"x","type":"quantitative","scale":{"type":"log","domain":[5e-9,5e-3],"nice":false},"axis":{"orient":"top","values":[6e-9,7e-9,8e-9,9e-9,1e-8,2e-8,3e-8,4e-8,5e-8,6e-8,7e-8,8e-8,9e-8,1e-7,2e-7,3e-7,4e-7,5e-7,6e-7,7e-7,8e-7,9e-7,1e-6,2e-6,3e-6,4e-6,5e-6,6e-6,7e-6,8e-6,9e-6,1e-5,2e-5,3e-5,4e-5,5e-5,6e-5,7e-5,8e-5,9e-5,1e-4,2e-4,3e-4,4e-4,5e-4,6e-4,7e-4,8e-4,9e-4,1e-3,2e-3,3e-3,4e-3],"tickSize":{"condition":{"test":"abs(log(datum.value)/LN10-round(log(datum.value)/LN10))<0.001","value":-7},"value":-4},"labels":false,"title":null}},
   "y":{"field":"y","type":"quantitative","scale":{"domain":[725,875],"nice":false,"zero":false},"axis":{"orient":"right","values":[750,775,800,825,850],"tickSize":{"condition":{"test":"datum.value % 50 == 0","value":-8},"value":-5},"labels":false,"title":null}},
   "shape":{"field":"kind","type":"nominal","scale":{"domain":["SF","APB","EAPB","EAPB_f","DL_f","DL_fd","MT_f","SF_f","APB_f"],"range":["square","diamond","circle","circle","circle","diamond","circle","circle","circle"]},"legend":null},
   "stroke":{"field":"kind","type":"nominal","scale":{"domain":["SF","APB","EAPB","EAPB_f","DL_f","DL_fd","MT_f","SF_f","APB_f"],"range":["#1a3cc2","#c8000a","#1e9a2a","#1e9a2a","#f07d1e","#f07d1e","#6a2a8c","#0f46c6","#c8000a"]},"legend":null},
   "fill":{"field":"kind","type":"nominal","scale":{"domain":["SF","APB","EAPB","EAPB_f","DL_f","DL_fd","MT_f","SF_f","APB_f"],"range":["#ffffff","#ffffff","#ffffff","#1e9a2a","#f07d1e","#f07d1e","#6a2a8c","#0f46c6","#c8000a"]},"legend":null},
   "size":{"field":"kind","type":"nominal","scale":{"type":"ordinal","domain":["SF","APB","EAPB","EAPB_f","DL_f","DL_fd","MT_f","SF_f","APB_f"],"range":[80,125,85,85,85,125,85,85,85]},"legend":null}}},
 {"data":{"name":"labels"},"transform":[{"filter":"datum.panel=='c' && datum.role=='region'"}],"mark":{"type":"text","font":"Liberation Sans","fontWeight":"bold","fontSize":21,"align":"center","baseline":"middle"},
  "encoding":{"x":{"field":"x","type":"quantitative","scale":{"type":"log","domain":[5e-9,5e-3],"nice":false},"axis":null},"y":{"field":"y","type":"quantitative","scale":{"domain":[725,875],"nice":false,"zero":false},"axis":null},"text":{"field":"text"},
   "color":{"field":"text","type":"nominal","scale":{"domain":["SFs","APBs","single DL","extended APB","Microtwinning"],"range":["#1d3fc4","#c8000a","#ee7d1f","#239a2d","#6b2d8f"]},"legend":null}}},
 {"data":{"name":"labels"},"transform":[{"filter":"datum.panel=='c' && datum.role=='alloy'"}],"mark":{"type":"text","font":"Liberation Sans","fontWeight":"bold","fontSize":22,"align":"left","baseline":"middle"},
  "encoding":{"x":{"field":"x","type":"quantitative","scale":{"type":"log","domain":[5e-9,5e-3],"nice":false},"axis":null},"y":{"field":"y","type":"quantitative","scale":{"domain":[725,875],"nice":false,"zero":false},"axis":null},"text":{"field":"text"},
   "color":{"field":"text","type":"nominal","scale":{"domain":["CoWAlloy1","CoWAlloy2","PHESA1","PHESA2"],"range":["#6c1a96","#a462b9","#2e3990","#5bb4e5"]},"legend":null}}},
 {"data":{"name":"labels"},"transform":[{"filter":"datum.panel=='c' && datum.role=='letter'"}],"mark":{"type":"text","font":"Liberation Serif","fontWeight":"bold","fontSize":23,"align":"left","baseline":"middle","color":"#111"},
  "encoding":{"x":{"field":"x","type":"quantitative","scale":{"type":"log","domain":[5e-9,5e-3],"nice":false},"axis":null},"y":{"field":"y","type":"quantitative","scale":{"domain":[725,875],"nice":false,"zero":false},"axis":null},"text":{"field":"text"}}}
 ],"resolve":{"axis":{"x":"independent","y":"independent"},"scale":{"color":"independent"}}},

{"width":463,"height":313,"layer":[
 {"data":{"name":"blobs"},"transform":[{"filter":"datum.panel=='d' && datum.type=='APBs'"}],"mark":{"type":"line","fill":{"gradient":"linear","x1":0,"y1":0,"x2":1,"y2":1,"stops":[{"offset":0,"color":"rgba(235,165,165,0.45)"},{"offset":1,"color":"rgba(205,80,85,0.48)"}]}},
  "encoding":{"x":{"field":"x","type":"quantitative","scale":{"type":"log","domain":[5e-9,4.1e-3],"nice":false},"axis":{"orient":"bottom","values":[6e-9,7e-9,8e-9,9e-9,1e-8,2e-8,3e-8,4e-8,5e-8,6e-8,7e-8,8e-8,9e-8,1e-7,2e-7,3e-7,4e-7,5e-7,6e-7,7e-7,8e-7,9e-7,1e-6,2e-6,3e-6,4e-6,5e-6,6e-6,7e-6,8e-6,9e-6,1e-5,2e-5,3e-5,4e-5,5e-5,6e-5,7e-5,8e-5,9e-5,1e-4,2e-4,3e-4,4e-4,5e-4,6e-4,7e-4,8e-4,9e-4,1e-3,2e-3,3e-3,4e-3],"tickSize":{"condition":{"test":"abs(log(datum.value)/LN10-round(log(datum.value)/LN10))<0.001","value":-7},"value":-4},"labelExpr":"abs(log(datum.value)/LN10-round(log(datum.value)/LN10))<0.001 ? '10⁻' + ['⁰','¹','²','³','⁴','⁵','⁶','⁷','⁸','⁹'][-round(log(datum.value)/LN10)] : ''","labelPadding":16,"title":null}},
   "y":{"field":"y","type":"quantitative","scale":{"domain":[725,875],"nice":false,"zero":false},"axis":{"orient":"left","values":[750,775,800,825,850],"tickSize":{"condition":{"test":"datum.value % 50 == 0","value":-8},"value":-5},"labels":false,"title":null}},
   "order":{"field":"i","type":"quantitative"}}},
 {"data":{"name":"blobs"},"transform":[{"filter":"datum.panel=='d' && datum.type=='single DL'"}],"mark":{"type":"line","fill":{"gradient":"linear","x1":0,"y1":0,"x2":1,"y2":1,"stops":[{"offset":0,"color":"rgba(248,175,110,0.36)"},{"offset":1,"color":"rgba(238,140,80,0.42)"}]}},
  "encoding":{"x":{"field":"x","type":"quantitative","scale":{"type":"log","domain":[5e-9,4.1e-3],"nice":false},"axis":null},"y":{"field":"y","type":"quantitative","scale":{"domain":[725,875],"nice":false,"zero":false},"axis":null},"order":{"field":"i","type":"quantitative"}}},
 {"data":{"name":"blobs"},"transform":[{"filter":"datum.panel=='d' && datum.type=='SFs'"}],"mark":{"type":"line","fill":{"gradient":"linear","x1":0,"y1":0,"x2":1,"y2":1,"stops":[{"offset":0,"color":"rgba(120,175,232,0.34)"},{"offset":1,"color":"rgba(80,140,212,0.42)"}]}},
  "encoding":{"x":{"field":"x","type":"quantitative","scale":{"type":"log","domain":[5e-9,4.1e-3],"nice":false},"axis":null},"y":{"field":"y","type":"quantitative","scale":{"domain":[725,875],"nice":false,"zero":false},"axis":null},"order":{"field":"i","type":"quantitative"}}},
 {"data":{"name":"pts"},"transform":[{"filter":"datum.panel=='d'"}],"mark":{"type":"point","opacity":1,"strokeWidth":2},
  "encoding":{"x":{"field":"x","type":"quantitative","scale":{"type":"log","domain":[5e-9,4.1e-3],"nice":false},"axis":{"orient":"top","values":[6e-9,7e-9,8e-9,9e-9,1e-8,2e-8,3e-8,4e-8,5e-8,6e-8,7e-8,8e-8,9e-8,1e-7,2e-7,3e-7,4e-7,5e-7,6e-7,7e-7,8e-7,9e-7,1e-6,2e-6,3e-6,4e-6,5e-6,6e-6,7e-6,8e-6,9e-6,1e-5,2e-5,3e-5,4e-5,5e-5,6e-5,7e-5,8e-5,9e-5,1e-4,2e-4,3e-4,4e-4,5e-4,6e-4,7e-4,8e-4,9e-4,1e-3,2e-3,3e-3,4e-3],"tickSize":{"condition":{"test":"abs(log(datum.value)/LN10-round(log(datum.value)/LN10))<0.001","value":-7},"value":-4},"labels":false,"title":null}},
   "y":{"field":"y","type":"quantitative","scale":{"domain":[725,875],"nice":false,"zero":false},"axis":{"orient":"right","values":[750,775,800,825,850],"tickSize":{"condition":{"test":"datum.value % 50 == 0","value":-8},"value":-5},"labels":false,"title":null}},
   "shape":{"field":"kind","type":"nominal","scale":{"domain":["SF","APB","EAPB","EAPB_f","DL_f","DL_fd","MT_f","SF_f","APB_f"],"range":["square","diamond","circle","circle","circle","diamond","circle","circle","circle"]},"legend":null},
   "stroke":{"field":"kind","type":"nominal","scale":{"domain":["SF","APB","EAPB","EAPB_f","DL_f","DL_fd","MT_f","SF_f","APB_f"],"range":["#1a3cc2","#c8000a","#1e9a2a","#1e9a2a","#f07d1e","#f07d1e","#6a2a8c","#0f46c6","#c8000a"]},"legend":null},
   "fill":{"field":"kind","type":"nominal","scale":{"domain":["SF","APB","EAPB","EAPB_f","DL_f","DL_fd","MT_f","SF_f","APB_f"],"range":["#ffffff","#ffffff","#ffffff","#1e9a2a","#f07d1e","#f07d1e","#6a2a8c","#0f46c6","#c8000a"]},"legend":null},
   "size":{"field":"kind","type":"nominal","scale":{"type":"ordinal","domain":["SF","APB","EAPB","EAPB_f","DL_f","DL_fd","MT_f","SF_f","APB_f"],"range":[80,125,85,85,85,125,85,85,85]},"legend":null}}},
 {"data":{"name":"labels"},"transform":[{"filter":"datum.panel=='d' && datum.role=='region'"}],"mark":{"type":"text","font":"Liberation Sans","fontWeight":"bold","fontSize":21,"align":"center","baseline":"middle"},
  "encoding":{"x":{"field":"x","type":"quantitative","scale":{"type":"log","domain":[5e-9,4.1e-3],"nice":false},"axis":null},"y":{"field":"y","type":"quantitative","scale":{"domain":[725,875],"nice":false,"zero":false},"axis":null},"text":{"field":"text"},
   "color":{"field":"text","type":"nominal","scale":{"domain":["SFs","APBs","single DL","extended APB","Microtwinning"],"range":["#1d3fc4","#c8000a","#ee7d1f","#239a2d","#6b2d8f"]},"legend":null}}},
 {"data":{"name":"labels"},"transform":[{"filter":"datum.panel=='d' && datum.role=='alloy'"}],"mark":{"type":"text","font":"Liberation Sans","fontWeight":"bold","fontSize":22,"align":"left","baseline":"middle"},
  "encoding":{"x":{"field":"x","type":"quantitative","scale":{"type":"log","domain":[5e-9,4.1e-3],"nice":false},"axis":null},"y":{"field":"y","type":"quantitative","scale":{"domain":[725,875],"nice":false,"zero":false},"axis":null},"text":{"field":"text"},
   "color":{"field":"text","type":"nominal","scale":{"domain":["CoWAlloy1","CoWAlloy2","PHESA1","PHESA2"],"range":["#6c1a96","#a462b9","#2e3990","#5bb4e5"]},"legend":null}}},
 {"data":{"name":"labels"},"transform":[{"filter":"datum.panel=='d' && datum.role=='letter'"}],"mark":{"type":"text","font":"Liberation Serif","fontWeight":"bold","fontSize":23,"align":"left","baseline":"middle","color":"#111"},
  "encoding":{"x":{"field":"x","type":"quantitative","scale":{"type":"log","domain":[5e-9,4.1e-3],"nice":false},"axis":null},"y":{"field":"y","type":"quantitative","scale":{"domain":[725,875],"nice":false,"zero":false},"axis":null},"text":{"field":"text"}}}
 ],"resolve":{"axis":{"x":"independent","y":"independent"},"scale":{"color":"independent"}}}
],
"columns":2,
"spacing":{"row":14,"column":15},
"bounds":"flush"
}
